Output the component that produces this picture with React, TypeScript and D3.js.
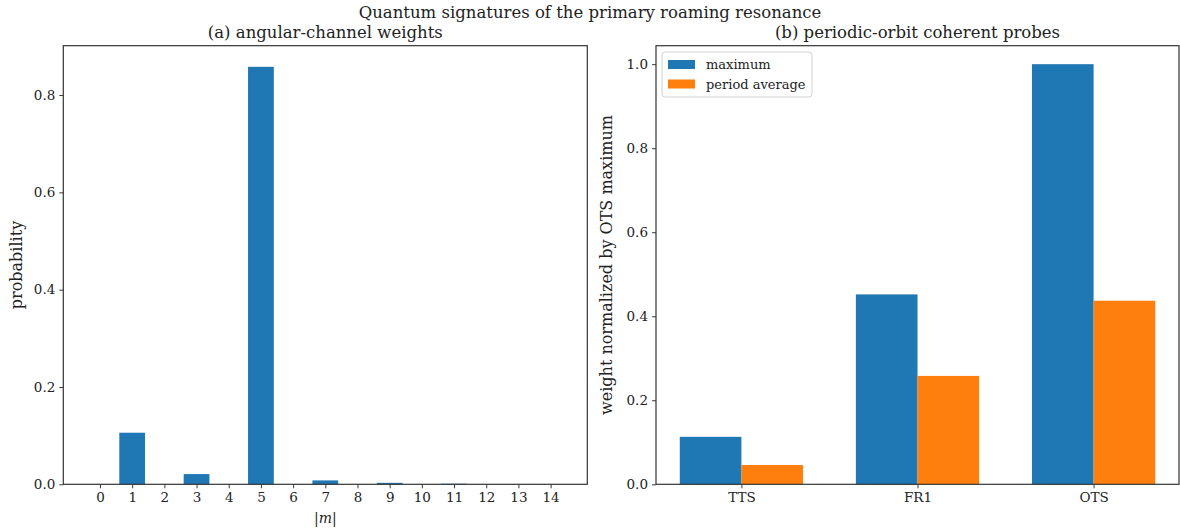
import React, { useRef, useEffect } from 'react'
import * as d3 from 'd3'

// panel (a): angular-channel weights
const mValues = [0, 1, 2, 3, 4, 5, 6, 7, 8, 9, 10, 11, 12, 13, 14]
const mProb = [0, 0.106, 0, 0.021, 0, 0.858, 0, 0.008, 0, 0.003, 0, 0.0012, 0, 0.0004, 0]
const probTicks = [0, 0.2, 0.4, 0.6, 0.8]

// panel (b): periodic-orbit coherent probes
const orbits = ['TTS', 'FR1', 'OTS']
const maxWeight = [0.113, 0.452, 1.0]
const avgWeight = [0.046, 0.258, 0.437]
const weightTicks = [0, 0.2, 0.4, 0.6, 0.8, 1.0]
const seriesNames = ['maximum', 'period average']

const BLUE = '#1f77b4'
const ORANGE = '#ff7f0e'
const FONT = '"DejaVu Serif", serif'

const W = 1180
const H = 531

const App = () => {
  const ref = useRef(null)

  useEffect(() => {
    document.body.style.margin = '0'
    const svg = d3.select(ref.current)
    svg.selectAll('*').remove()

    svg.append('rect').attr('width', W).attr('height', H).attr('fill', '#fff')

    svg.append('text')
      .attr('x', W / 2).attr('y', 18)
      .attr('text-anchor', 'middle')
      .attr('font-size', 16.5)
      .attr('fill', '#222')
      .text('Quantum signatures of the primary roaming resonance')

    const top = 45.7, bottom = 484.3

    const styleAxis = g => {
      g.select('.domain').remove()
      g.selectAll('.tick line').attr('stroke', '#222').attr('stroke-width', 0.9)
      g.selectAll('.tick text').attr('font-family', FONT).attr('font-size', 13.5).attr('fill', '#222')
    }

    // ---------- left panel ----------
    const aL = 63.3, aR = 587.3
    const x1 = d3.scaleLinear().domain([-1.14, 15.14]).range([aL, aR])
    const y1 = d3.scaleLinear().domain([0, 0.9014]).range([bottom, top])

    const gA = svg.append('g')
    gA.selectAll('rect.bar')
      .data(mValues)
      .join('rect')
      .attr('class', 'bar')
      .attr('x', d => x1(d - 0.4))
      .attr('width', x1(0.8) - x1(0))
      .attr('y', (d, i) => y1(mProb[i]))
      .attr('height', (d, i) => bottom - y1(mProb[i]))
      .attr('fill', BLUE)

    gA.append('g')
      .attr('transform', `translate(0,${bottom})`)
      .call(d3.axisBottom(x1).tickValues(mValues).tickFormat(d3.format('d')).tickSize(4).tickPadding(4))
      .call(styleAxis)

    gA.append('g')
      .attr('transform', `translate(${aL},0)`)
      .call(d3.axisLeft(y1).tickValues(probTicks).tickFormat(d3.format('.1f')).tickSize(4).tickPadding(4))
      .call(styleAxis)

    gA.append('rect')
      .attr('x', aL).attr('y', top).attr('width', aR - aL).attr('height', bottom - top)
      .attr('fill', 'none').attr('stroke', '#333').attr('stroke-width', 1.2)

    gA.append('text')
      .attr('x', (aL + aR) / 2).attr('y', 38)
      .attr('text-anchor', 'middle').attr('font-size', 16.5).attr('fill', '#222')
      .text('(a) angular-channel weights')

    const xl = gA.append('text')
      .attr('x', (aL + aR) / 2).attr('y', 523)
      .attr('text-anchor', 'middle').attr('font-size', 14).attr('fill', '#222')
    xl.append('tspan').text('|')
    xl.append('tspan').attr('font-style', 'italic').text('m')
    xl.append('tspan').text('|')

    gA.append('text')
      .attr('transform', `translate(22,${(top + bottom) / 2}) rotate(-90)`)
      .attr('text-anchor', 'middle').attr('font-size', 16).attr('fill', '#222')
      .text('probability')

    // ---------- right panel ----------
    const bL = 656, bR = 1179
    const x2 = d3.scaleLinear().domain([-0.485, 2.485]).range([bL, bR])
    const y2 = d3.scaleLinear().domain([0, 1.044]).range([bottom, top])
    const bw = 0.35

    const gB = svg.append('g')
    gB.selectAll('rect.max')
      .data(orbits)
      .join('rect')
      .attr('class', 'max')
      .attr('x', (d, i) => x2(i - bw))
      .attr('width', x2(bw) - x2(0))
      .attr('y', (d, i) => y2(maxWeight[i]))
      .attr('height', (d, i) => bottom - y2(maxWeight[i]))
      .attr('fill', BLUE)

    gB.selectAll('rect.avg')
      .data(orbits)
      .join('rect')
      .attr('class', 'avg')
      .attr('x', (d, i) => x2(i))
      .attr('width', x2(bw) - x2(0))
      .attr('y', (d, i) => y2(avgWeight[i]))
      .attr('height', (d, i) => bottom - y2(avgWeight[i]))
      .attr('fill', ORANGE)

    gB.append('g')
      .attr('transform', `translate(0,${bottom})`)
      .call(d3.axisBottom(x2).tickValues([0, 1, 2]).tickFormat(i => orbits[i]).tickSize(4).tickPadding(4))
      .call(styleAxis)

    gB.append('g')
      .attr('transform', `translate(${bL},0)`)
      .call(d3.axisLeft(y2).tickValues(weightTicks).tickFormat(d3.format('.1f')).tickSize(4).tickPadding(4))
      .call(styleAxis)

    gB.append('rect')
      .attr('x', bL).attr('y', top).attr('width', bR - bL).attr('height', bottom - top)
      .attr('fill', 'none').attr('stroke', '#333').attr('stroke-width', 1.2)

    gB.append('text')
      .attr('x', (bL + bR) / 2).attr('y', 38)
      .attr('text-anchor', 'middle').attr('font-size', 16.5).attr('fill', '#222')
      .text('(b) periodic-orbit coherent probes')

    gB.append('text')
      .attr('transform', `translate(612,${(top + bottom) / 2}) rotate(-90)`)
      .attr('text-anchor', 'middle').attr('font-size', 16).attr('fill', '#222')
      .text('weight normalized by OTS maximum')

    // legend
    const lg = gB.append('g').attr('transform', 'translate(662,52)')
    lg.append('rect')
      .attr('width', 150).attr('height', 45).attr('rx', 3)
      .attr('fill', '#fff').attr('fill-opacity', 0.8)
      .attr('stroke', '#d0d0d0').attr('stroke-width', 1)
    seriesNames.forEach((name, i) => {
      lg.append('rect')
        .attr('x', 6).attr('y', 8 + i * 19.5).attr('width', 27).attr('height', 9)
        .attr('fill', i === 0 ? BLUE : ORANGE)
      lg.append('text')
        .attr('x', 44).attr('y', 17 + i * 19.5)
        .attr('font-size', 13).attr('fill', '#222')
        .text(name)
    })
  }, [])

  return (
    <svg ref={ref} width={W} height={H} style={{ display: 'block', fontFamily: FONT }} />
  )
}

export default App
